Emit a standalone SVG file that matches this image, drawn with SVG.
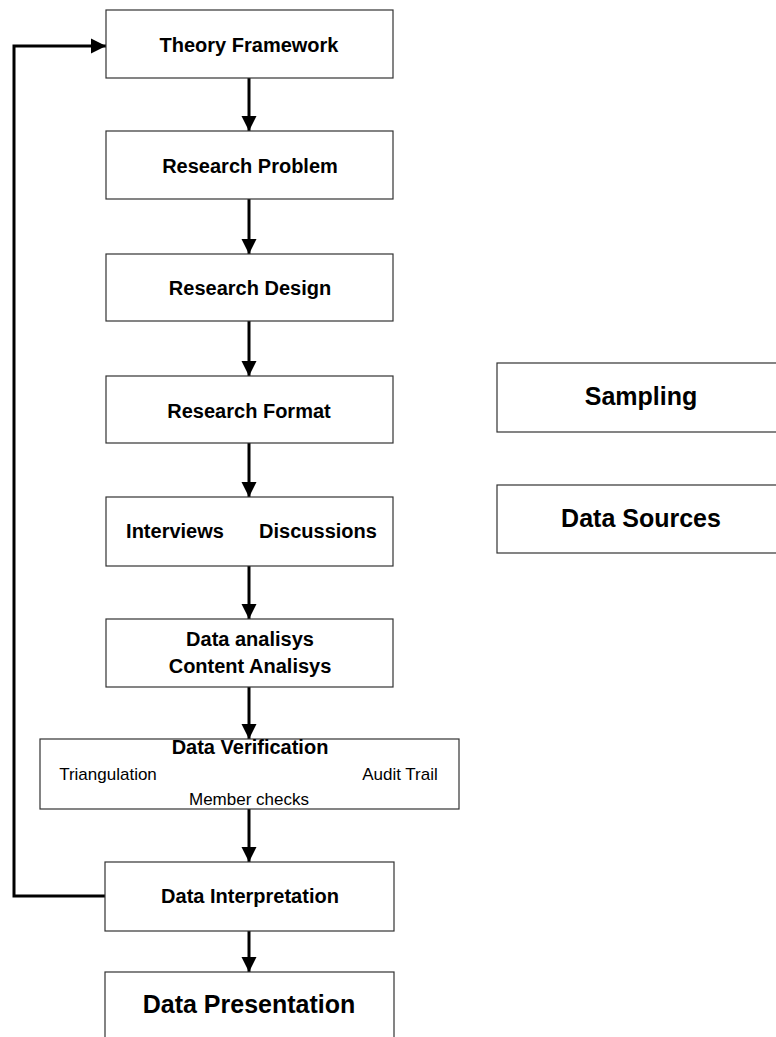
<svg xmlns="http://www.w3.org/2000/svg" width="776" height="1037" viewBox="0 0 776 1037">
  <defs>
    <marker id="arrow" markerUnits="userSpaceOnUse" markerWidth="16" markerHeight="16" refX="15" refY="8" orient="auto">
      <path d="M0,0.5 L15,8 L0,15.5 Z" fill="#000"/>
    </marker>
    <style>
      .box { fill: #fff; stroke: #333; stroke-width: 1.2; }
      .edge { fill: none; stroke: #000; stroke-width: 3; }
      .t { font-family: "Liberation Sans", Arial, sans-serif; fill: #000; text-anchor: middle; }
      .b { font-weight: bold; }
    </style>
  </defs>
  <rect width="776" height="1037" fill="#fff"/>

  <!-- flow connectors -->
  <g id="connectors">
    <line class="edge" x1="249" y1="78" x2="249" y2="131" marker-end="url(#arrow)"/>
    <line class="edge" x1="249" y1="199" x2="249" y2="254" marker-end="url(#arrow)"/>
    <line class="edge" x1="249" y1="321" x2="249" y2="376" marker-end="url(#arrow)"/>
    <line class="edge" x1="249" y1="443" x2="249" y2="497" marker-end="url(#arrow)"/>
    <line class="edge" x1="249" y1="566" x2="249" y2="619" marker-end="url(#arrow)"/>
    <line class="edge" x1="249" y1="687" x2="249" y2="739" marker-end="url(#arrow)"/>
    <line class="edge" x1="249" y1="809" x2="249" y2="862" marker-end="url(#arrow)"/>
    <line class="edge" x1="249" y1="931" x2="249" y2="972" marker-end="url(#arrow)"/>
    <!-- feedback loop from interpretation back to theory -->
    <polyline class="edge" points="105,896 14,896 14,46 106,46" marker-end="url(#arrow)"/>
  </g>

  <g id="theory-framework">
    <rect class="box" x="106" y="10" width="287" height="68"/>
    <text class="t b" x="249" y="52" font-size="20">Theory Framework</text>
  </g>
  <g id="research-problem">
    <rect class="box" x="106" y="131" width="287" height="68"/>
    <text class="t b" x="250" y="173" font-size="20">Research Problem</text>
  </g>
  <g id="research-design">
    <rect class="box" x="106" y="254" width="287" height="67"/>
    <text class="t b" x="250" y="295" font-size="20">Research Design</text>
  </g>
  <g id="research-format">
    <rect class="box" x="106" y="376" width="287" height="67"/>
    <text class="t b" x="249" y="418" font-size="20">Research Format</text>
  </g>
  <g id="interviews-discussions">
    <rect class="box" x="106" y="497" width="287" height="69"/>
    <text class="t b" x="175" y="538" font-size="20">Interviews</text>
    <text class="t b" x="318" y="538" font-size="20">Discussions</text>
  </g>
  <g id="data-analysis">
    <rect class="box" x="106" y="619" width="287" height="68"/>
    <text class="t b" x="250" y="646" font-size="20">Data analisys</text>
    <text class="t b" x="250" y="673" font-size="20">Content Analisys</text>
  </g>
  <g id="data-verification">
    <rect class="box" x="40" y="739" width="419" height="70"/>
    <text class="t b" x="250" y="754" font-size="20">Data Verification</text>
    <text class="t" x="108" y="780" font-size="17">Triangulation</text>
    <text class="t" x="400" y="780" font-size="17">Audit Trail</text>
    <text class="t" x="249" y="805" font-size="17">Member checks</text>
  </g>
  <g id="data-interpretation">
    <rect class="box" x="105" y="862" width="289" height="69"/>
    <text class="t b" x="250" y="903" font-size="20">Data Interpretation</text>
  </g>
  <g id="data-presentation">
    <rect class="box" x="105" y="972" width="289" height="80"/>
    <text class="t b" x="249" y="1013" font-size="25">Data Presentation</text>
  </g>
  <g id="sampling">
    <rect class="box" x="497" y="363" width="290" height="69"/>
    <text class="t b" x="641" y="405" font-size="25">Sampling</text>
  </g>
  <g id="data-sources">
    <rect class="box" x="497" y="485" width="290" height="68"/>
    <text class="t b" x="641" y="527" font-size="25">Data Sources</text>
  </g>
</svg>
